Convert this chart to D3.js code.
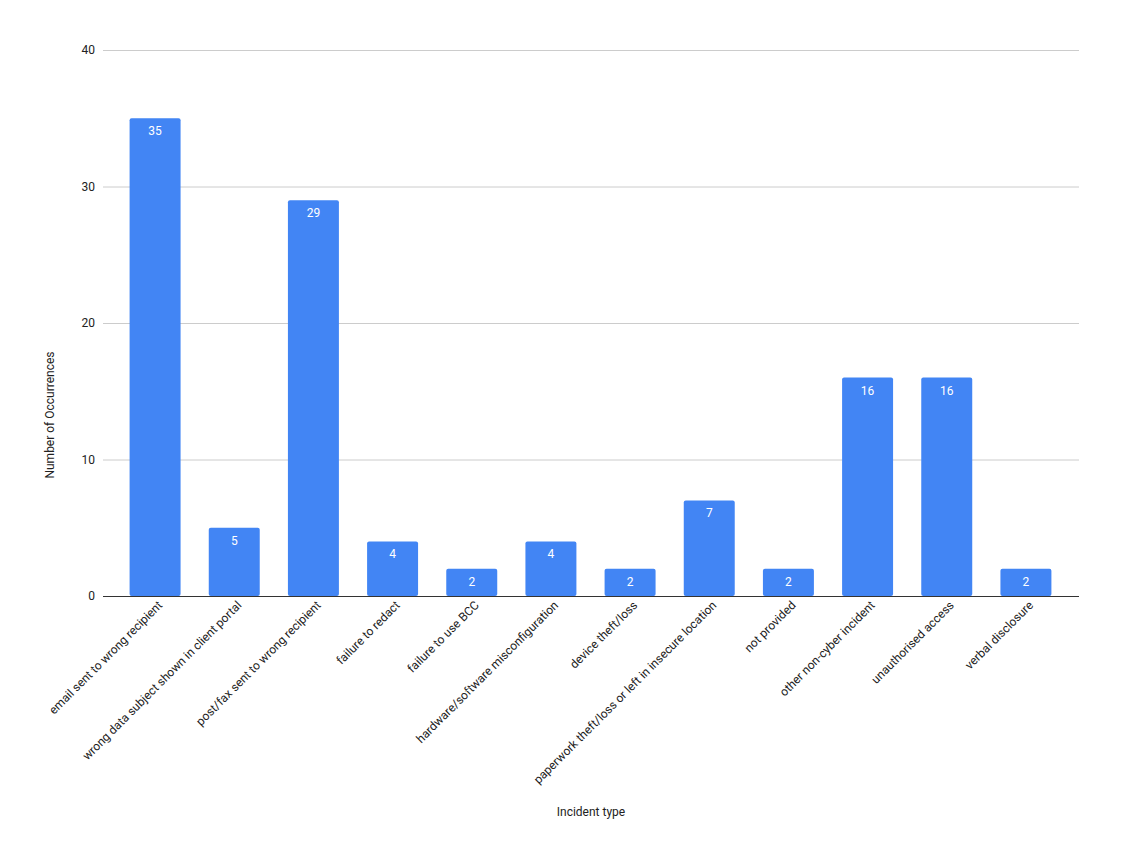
<!DOCTYPE html>
<html>
<head>
<meta charset="utf-8">
<script src="https://cdn.jsdelivr.net/npm/d3@7"></script>
<style>
body { margin: 0; background: white; font-family: Roboto, sans-serif; }
.grid line { stroke: #cccccc; }
.grid path { display: none; }
</style>
</head>
<body>
<script>

const categories = [
  "email sent to wrong recipient",
  "wrong data subject shown in client portal",
  "post/fax sent to wrong recipient",
  "failure to redact",
  "failure to use BCC",
  "hardware/software misconfiguration",
  "device theft/loss",
  "paperwork theft/loss or left in insecure location",
  "not provided",
  "other non-cyber incident",
  "unauthorised access",
  "verbal disclosure"
];
const occurrences = [35, 5, 29, 4, 2, 4, 2, 7, 2, 16, 16, 2];
const yTicks = [0, 10, 20, 30, 40];

const W = 1122, H = 862;
const svg = d3.select("body").append("svg")
  .attr("width", W).attr("height", H);

const plotLeft = 103, plotRight = 1079, plotTop = 50, plotBottom = 596;

const x = d3.scaleBand()
  .domain(categories)
  .range([115.5, 1065.5])
  .paddingInner(0.356)
  .paddingOuter(0.178);

const y = d3.scaleLinear().domain([0, 40]).range([plotBottom, plotTop]);

// gridlines + y labels
svg.append("g")
  .attr("class", "grid")
  .attr("transform", `translate(${plotLeft},0)`)
  .call(d3.axisLeft(y).tickValues(yTicks).tickSize(-(plotRight - plotLeft)).tickPadding(8))
  .call(g => g.selectAll("text")
    .attr("font-family", "Roboto, sans-serif")
    .attr("font-size", 12)
    .attr("fill", "#222"));

// bars
svg.append("g").selectAll("rect")
  .data(occurrences)
  .join("rect")
  .attr("x", (d, i) => x(categories[i]))
  .attr("y", d => y(d))
  .attr("width", x.bandwidth())
  .attr("height", d => plotBottom - y(d))
  .attr("rx", 2)
  .attr("fill", "#4285f4");

// value labels
svg.append("g").selectAll("text")
  .data(occurrences)
  .join("text")
  .attr("x", (d, i) => x(categories[i]) + x.bandwidth() / 2)
  .attr("y", d => y(d) + 17)
  .attr("text-anchor", "middle")
  .attr("font-size", 12)
  .attr("fill", "white")
  .text(d => d);

// baseline
svg.append("line")
  .attr("x1", plotLeft).attr("x2", plotRight)
  .attr("y1", plotBottom + 0.5).attr("y2", plotBottom + 0.5)
  .attr("stroke", "#333");

// category labels
svg.append("g").selectAll("text")
  .data(categories)
  .join("text")
  .attr("transform", d => `translate(${x(d) + x.bandwidth() / 2 + 8},${plotBottom + 10}) rotate(-45)`)
  .attr("text-anchor", "end")
  .attr("font-size", 12)
  .attr("fill", "#222")
  .text(d => d);

// axis titles
svg.append("text")
  .attr("x", 591)
  .attr("y", 816)
  .attr("text-anchor", "middle")
  .attr("font-size", 12)
  .attr("fill", "#222")
  .text("Incident type");

svg.append("text")
  .attr("transform", `translate(54,${(plotTop + plotBottom) / 2 + 92}) rotate(-90)`)
  .attr("text-anchor", "middle")
  .attr("font-size", 12)
  .attr("fill", "#222")
  .text("Number of Occurrences");

</script>
</body>
</html>
